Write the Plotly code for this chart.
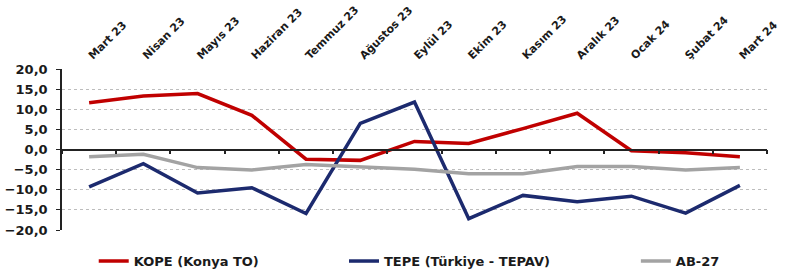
import plotly.graph_objects as go

categories = ["Mart 23", "Nisan 23", "Mayıs 23", "Haziran 23", "Temmuz 23", "Ağustos 23",
              "Eylül 23", "Ekim 23", "Kasım 23", "Aralık 23", "Ocak 24", "Şubat 24", "Mart 24"]
kope = [11.6, 13.3, 13.9, 8.5, -2.4, -2.7, 2.0, 1.5, 5.2, 9.0, -0.3, -0.8, -1.8]
tepe = [-9.3, -3.5, -10.8, -9.5, -15.9, 6.5, 11.8, -17.2, -11.4, -13.0, -11.6, -15.8, -8.9]
ab27 = [-1.8, -1.2, -4.5, -5.1, -3.7, -4.2, -4.9, -6.0, -6.0, -4.2, -4.2, -5.1, -4.5]
y_ticks = [20, 15, 10, 5, 0, -5, -10, -15, -20]

FONT = "DejaVu Sans"
x = list(range(len(categories)))

fig = go.Figure()
fig.add_trace(go.Scatter(x=x, y=kope, name="KOPE (Konya TO)", mode="lines",
                         line=dict(color="#C00000", width=3.5), legend="legend"))
fig.add_trace(go.Scatter(x=x, y=tepe, name="TEPE (Türkiye - TEPAV)", mode="lines",
                         line=dict(color="#1C2A6E", width=3.5), legend="legend2"))
fig.add_trace(go.Scatter(x=x, y=ab27, name="AB-27", mode="lines",
                         line=dict(color="#A3A3A3", width=3.5), legend="legend3"))
# invisible trace to activate secondary x axis for the zero-line ticks
fig.add_trace(go.Scatter(x=[-0.5, 12.5], y=[None, None], xaxis="x2", showlegend=False,
                         hoverinfo="skip"))

boundaries = [i - 0.5 for i in range(len(categories) + 1)]

legend_common = dict(orientation="h", yanchor="middle", y=-0.193, xanchor="left",
                     font=dict(family=FONT, size=13, color="#1a1a1a", weight="bold"),
                     itemwidth=30, bgcolor="rgba(0,0,0,0)", tracegroupgap=0)

fig.update_layout(
    width=790, height=274,
    margin=dict(l=62, r=23, t=69, b=44, autoexpand=False),
    paper_bgcolor="white", plot_bgcolor="white",
    separators=",.",
    font=dict(family=FONT, size=12, color="#1a1a1a"),
    xaxis=dict(range=[-0.5, 12.5], side="top", tickmode="array", tickvals=x,
               ticktext=categories, tickangle=-45, showgrid=False, zeroline=False,
               showline=False, ticks="outside", ticklen=2, tickcolor="rgba(0,0,0,0)",
               automargin=False,
               tickfont=dict(family=FONT, size=11, color="#1a1a1a", weight="bold")),
    xaxis2=dict(range=[-0.5, 12.5], overlaying="x", anchor="free", position=0.5,
                side="bottom", showline=True, linecolor="#222", linewidth=1.5,
                tickmode="array", tickvals=boundaries, ticks="outside", ticklen=4,
                tickcolor="#222", tickwidth=1.5, showticklabels=False, showgrid=False,
                zeroline=False, automargin=False),
    yaxis=dict(range=[-20, 20], tickmode="array", tickvals=y_ticks, tickformat=".1f",
               showgrid=True, gridcolor="#BDBDBD", griddash="dot", gridwidth=1,
               zeroline=False, showline=True, linecolor="#222", linewidth=1.5,
               ticks="outside", ticklen=4, tickcolor="#222", automargin=False,
               ticklabelstandoff=6,
               tickfont=dict(family=FONT, size=13, color="#1a1a1a", weight="bold")),
    legend=dict(legend_common, x=0.045),
    legend2=dict(legend_common, x=0.40),
    legend3=dict(legend_common, x=0.814),
    showlegend=True,
)

fig.write_html("out.html", config={"displayModeBar": False},
               post_script="document.body.style.margin='0';document.body.style.overflow='hidden';")
